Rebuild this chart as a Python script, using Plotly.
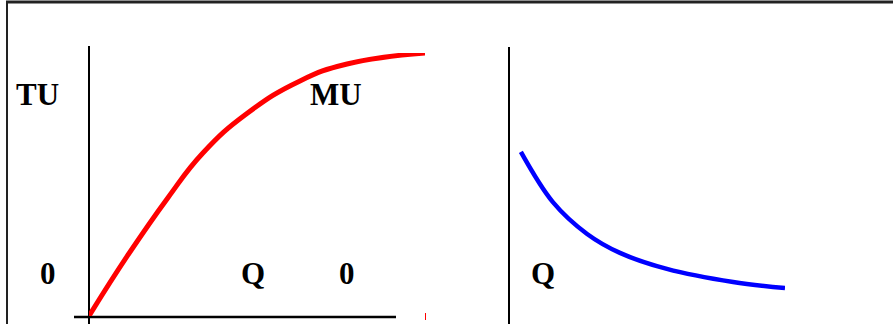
import plotly.graph_objects as go

W, H = 893, 324

# total utility (left panel)
q_tu = [0, 1.16, 2.35, 3.39, 4.70, 6.28, 7.68, 10]
tu = [0, 2.32, 4.50, 6.20, 7.70, 8.94, 9.58, 10]

# marginal utility (right panel)
q_mu = [0.43, 1.59, 2.83, 4.02, 5.72, 8.12, 10]
mu = [6.24, 4.33, 3.12, 2.40, 1.79, 1.29, 1.06]

labels = ["TU", "MU", "0", "Q", "0", "Q"]
label_pos = [(37, 95), (336, 95), (48, 273), (253, 273), (347, 273), (543, 273)]


def px(x):
    return x / W


def py(y):
    return 1 - y / H


fig = go.Figure()
fig.add_trace(go.Scatter(x=q_tu, y=tu, mode="lines", xaxis="x", yaxis="y",
                         line=dict(color="#ff0000", width=5, shape="spline", smoothing=1.3)))
fig.add_trace(go.Scatter(x=q_mu, y=mu, mode="lines", xaxis="x2", yaxis="y2",
                         line=dict(color="#0000ff", width=4.5, shape="spline", smoothing=1)))

hidden = dict(visible=False, range=[0, 10], fixedrange=True)
fig.update_layout(
    width=W, height=H,
    margin=dict(l=0, r=0, t=0, b=0),
    paper_bgcolor="white", plot_bgcolor="rgba(0,0,0,0)",
    showlegend=False,
    xaxis=dict(domain=[px(89), px(425)], anchor="y", **hidden),
    yaxis=dict(domain=[py(316), py(53)], anchor="x", **hidden),
    xaxis2=dict(domain=[px(509), px(785)], anchor="y2", **hidden),
    yaxis2=dict(domain=[py(316), py(53)], anchor="x2", **hidden),
)

# frame and axes
line_k = dict(type="line", xref="paper", yref="paper", layer="below")
fig.add_shape(x0=px(6), x1=1, y0=py(2), y1=py(2), line=dict(color="#222", width=3), **line_k)
fig.add_shape(x0=px(7), x1=px(7), y0=py(2), y1=0, line=dict(color="#222", width=2), **line_k)
fig.add_shape(x0=px(89), x1=px(89), y0=py(46), y1=0, line=dict(color="black", width=2), **line_k)
fig.add_shape(x0=px(74), x1=px(396), y0=py(317), y1=py(317), line=dict(color="black", width=2.5), **line_k)
fig.add_shape(x0=px(509), x1=px(509), y0=py(47), y1=0, line=dict(color="black", width=2), **line_k)
fig.add_shape(x0=px(425.5), x1=px(425.5), y0=py(313), y1=py(320), line=dict(color="#ff0000", width=1), **line_k)

for txt, (x, y) in zip(labels, label_pos):
    fig.add_annotation(x=px(x), y=py(y), xref="paper", yref="paper", text="<b>%s</b>" % txt,
                       showarrow=False, xanchor="center", yanchor="middle",
                       font=dict(family="Liberation Serif", size=31, color="black"))

fig.write_html("out.html", config={"displayModeBar": False},
               post_script="document.body.style.margin='0';")
